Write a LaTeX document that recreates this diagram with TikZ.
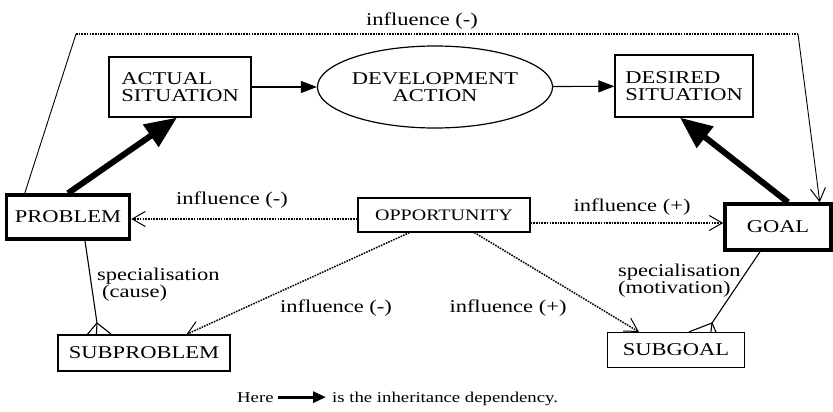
\documentclass[tikz,border=0pt]{standalone}
\usepackage{fontspec}
\setmainfont{Liberation Serif}[FakeStretch=1.25]
\usetikzlibrary{arrows.meta,shapes.geometric,calc}
\begin{document}
\begin{tikzpicture}[x=1pt,y=-1pt,
  every node/.style={font=\fontsize{18}{17}\selectfont},
  box/.style={draw,line width=1.2pt,rectangle,inner sep=0pt},
  thickbox/.style={box,line width=3.5pt},
  lbl/.style={anchor=base,inner sep=0pt},
  small/.style={font=\fontsize{15}{15}\selectfont,inner sep=0pt,anchor=base west},
  flow/.style={line width=1.1pt,-{Triangle[length=16pt,width=12pt]}},
  inh/.style={line width=6pt,-{Triangle[length=32pt,width=26pt]}},
  inhsmall/.style={line width=3pt,-{Triangle[length=13pt,width=11pt]}},
  dotline/.style={line width=1.5pt,dash pattern=on 1.6pt off 1.1pt},
  barb/.style={-{Straight Barb[length=13pt,width=15pt,line width=1pt]}},
  spec/.style={line width=1.1pt}]
\useasboundingbox (0,0) rectangle (833,412);

% nodes
\node[box,align=left,minimum width=142pt,minimum height=60pt] (act) at (180,87) {ACTUAL\\SITUATION};
\node[draw,ellipse,line width=1.2pt,inner sep=0pt,align=center,minimum width=184pt,minimum height=82pt] (dev) at (435,87) {DEVELOPMENT\\ACTION};
\node[box,align=left,minimum width=138pt,minimum height=62pt] (des) at (684,86) {DESIRED\\SITUATION};
\node[thickbox,minimum width=123pt,minimum height=44pt] (prob) at (68,217) {PROBLEM};
\node[box,minimum width=172pt,minimum height=34pt,font=\fontsize{16}{16}\selectfont] (opp) at (444,215) {OPPORTUNITY};
\node[thickbox,minimum width=106pt,minimum height=46pt] (goal) at (778,227) {GOAL};
\node[box,minimum width=172pt,minimum height=36pt] (subp) at (144,353) {SUBPROBLEM};
\node[box,minimum width=137pt,minimum height=35pt] (subg) at (676,350) {SUBGOAL};

% flow arrows
\draw[flow] (act) -- (dev);
\draw[flow] (dev) -- (des);

% inheritance
\draw[inh] (prob.north) -- ($(act.south)+(-3,0)$);
\draw[inh] ($(goal.north)+(10,0)$) -- ($(des.south)+(-4,0)$);

% top influence (-)
\coordinate (tl) at (76,34);
\coordinate (tr) at (798,34);
\draw[line width=0.9pt] ($(prob.north west)+(20,0)$) -- (tl);
\draw[dotline] (tl) -- (tr);
\draw[line width=0.9pt,barb] (tr) -- ($(goal.north east)+(-13,0)$);
\node[lbl] (ltop) at (422,26) {influence (-)};

% influences from opportunity
\draw[dotline,barb] (opp.west |- 0,219) -- (prob.east |- 0,219);
\node[lbl] (l1) at (232,204) {influence (-)};
\draw[dotline,barb] (opp.east |- 0,223) -- (goal.west |- 0,223);
\node[lbl] (l2) at (632,211) {influence (+)};
\draw[dotline,barb] ($(opp.south west)+(52,0)$) -- ($(subp.north west)+(129,0)$);
\node[lbl] (l3) at (336,312) {influence (-)};
\draw[dotline,barb] ($(opp.south west)+(117,0)$) -- ($(subg.north west)+(32,0)$);
\node[lbl] (l4) at (508,312) {influence (+)};

% specialisation (cause)
\coordinate (cp) at (97,323);
\draw[spec] ($(prob.south)+(17,0)$) -- (cp);
\draw[spec] (cp) -- ($(subp.north west)+(30,0)$);
\draw[spec] (cp) -- ($(subp.north west)+(39,0)$);
\draw[spec] (cp) -- ($(subp.north west)+(54,0)$);
\node[inner sep=0pt,anchor=base west,align=left] (sc) at (97,297) {specialisation\\\hspace*{5pt}(cause)};

% specialisation (motivation)
\coordinate (cg) at (712,323);
\draw[spec] ($(goal.south)+(-18,0)$) -- (cg);
\draw[spec] (cg) -- ($(subg.north west)+(82,0)$);
\draw[spec] (cg) -- ($(subg.north west)+(104,0)$);
\draw[spec] (cg) -- ($(subg.north west)+(109,0)$);
\node[inner sep=0pt,anchor=base west,align=left] (sm) at (618,293) {specialisation\\(motivation)};

% legend
\node[small] (here) at (237,402) {Here};
\node[small] (rest) at (332,402) {is the inheritance dependency.};
\draw[inhsmall] ($(here.east)+(4,0)$) -- ($(here.east -| rest.west)+(-6,0)$);
\end{tikzpicture}
\end{document}
